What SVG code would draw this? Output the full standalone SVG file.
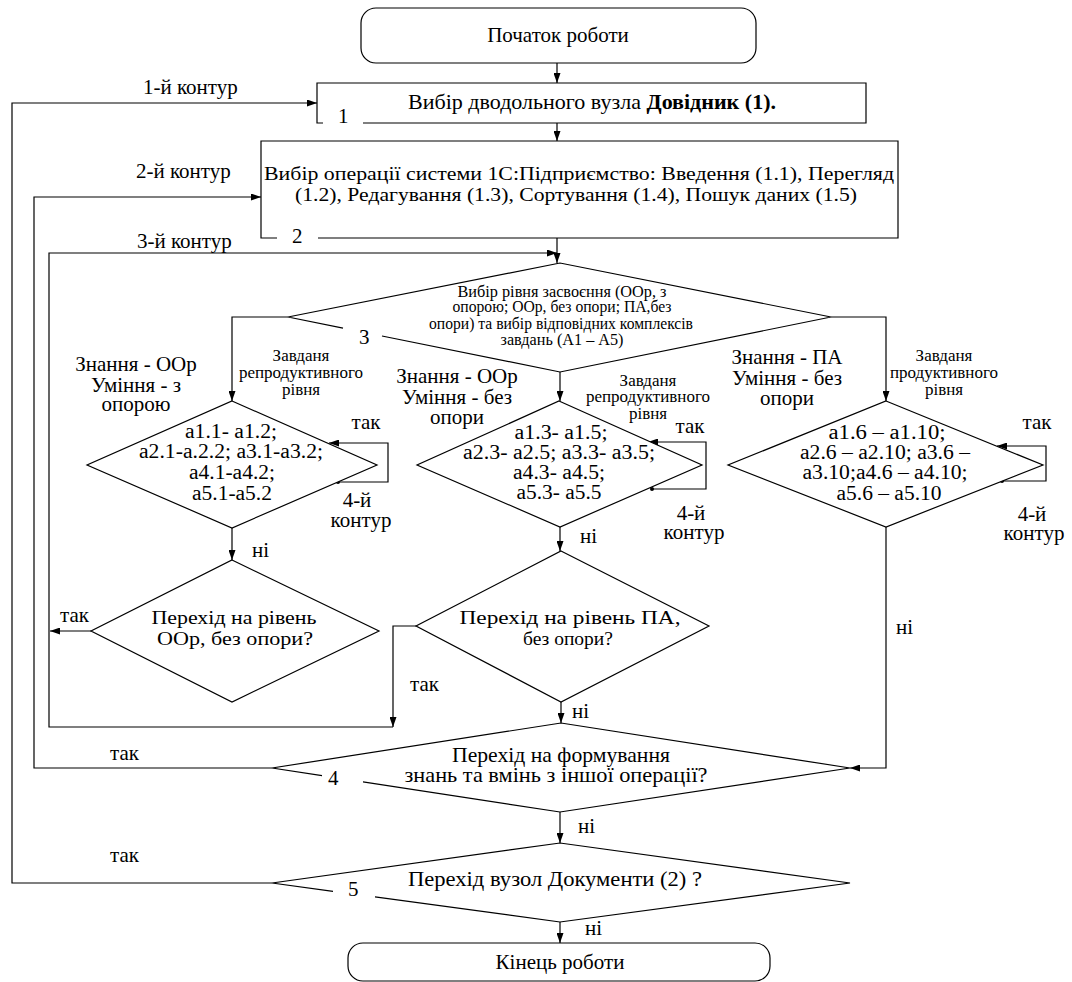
<svg xmlns="http://www.w3.org/2000/svg" width="1072" height="982" viewBox="0 0 1072 982">
<style>
.t{font-family:"Liberation Serif","DejaVu Serif Condensed","DejaVu Serif",serif;font-size:21px;fill:#000}
.s{font-size:17px}
.m{font-size:16px}
.a{font-size:20px}
.q{font-size:19.5px}
.c{text-anchor:middle}
.ln{fill:none;stroke:#000;stroke-width:1.2}
.nd{fill:#fff;stroke:#000;stroke-width:1.2}
</style>
<defs>
<marker id="ah" viewBox="0 0 10 7" refX="10" refY="3.5" markerWidth="10" markerHeight="7" markerUnits="userSpaceOnUse" orient="auto"><path d="M0,0 L10,3.5 L0,7 z" fill="#000"/></marker>
</defs>
<rect width="1072" height="982" fill="#fff"/>

<g id="connectors" class="ln">
<path d="M557,63 V83" marker-end="url(#ah)"/>
<path d="M557,123 V141" marker-end="url(#ah)"/>
<path d="M557,238 V263" marker-end="url(#ah)"/>
<path d="M416,626 H393 V727" marker-end="url(#ah)"/>
<path d="M393,727 H49 V253 H557" marker-end="url(#ah)"/>
<path d="M91,631 H50" marker-end="url(#ah)"/>
<path d="M288,317 H232 V401" marker-end="url(#ah)"/>
<path d="M560,372 V401" marker-end="url(#ah)"/>
<path d="M831,317 H886 V401" marker-end="url(#ah)"/>
<path d="M338,482 H388 V443 H329" marker-end="url(#ah)"/>
<path d="M652,489 H706 V442 H648" marker-end="url(#ah)"/>
<path d="M1002,481 H1046 V446 H997" marker-end="url(#ah)"/>
<path d="M232,528 V560" marker-end="url(#ah)"/>
<path d="M560,527 V551" marker-end="url(#ah)"/>
<path d="M561,702 V723" marker-end="url(#ah)"/>
<path d="M886,527 V768 H850" marker-end="url(#ah)"/>
<path d="M560,812 V843" marker-end="url(#ah)"/>
<path d="M560,922 V943" marker-end="url(#ah)"/>
<path d="M272,768 H34 V197 H261" marker-end="url(#ah)"/>
<path d="M272,883 H12 V103 H317" marker-end="url(#ah)"/>
<circle cx="338" cy="482" r="2" fill="#000" stroke="none"/>
<circle cx="652" cy="489" r="2" fill="#000" stroke="none"/>
<circle cx="1002" cy="481" r="2" fill="#000" stroke="none"/>
<g class="t" stroke="none">
<text x="143" y="94">1-й контур</text>
<text x="136" y="178">2-й контур</text>
<text x="137" y="248">3-й контур</text>
<text x="366" y="429" class="c">так</text>
<text x="357" y="507" class="c">4-й</text>
<text x="361" y="527" class="c">контур</text>
<text x="690" y="433" class="c">так</text>
<text x="691" y="520" class="c">4-й</text>
<text x="694" y="539" class="c">контур</text>
<text x="1037" y="429" class="c">так</text>
<text x="1032" y="521" class="c">4-й</text>
<text x="1034" y="540" class="c">контур</text>
<text x="252" y="557">ні</text>
<text x="580" y="543">ні</text>
<text x="60" y="622">так</text>
<text x="410" y="691">так</text>
<text x="572" y="718">ні</text>
<text x="896" y="634">ні</text>
<text x="578" y="833">ні</text>
<text x="585" y="935">ні</text>
<text x="110" y="760">так</text>
<text x="110" y="862">так</text>
</g>
</g>

<g id="start">
<rect x="361" y="8" width="395" height="55" rx="15" class="nd"/>
<text x="558" y="42" class="t c">Початок роботи</text>
</g>

<g id="box1">
<path d="M323,123 H317 V83 H866 V123 H363" class="ln"/>
<text x="408" y="109" class="t" textLength="368" lengthAdjust="spacingAndGlyphs">Вибір дводольного вузла <tspan font-weight="bold">Довідник (1).</tspan></text>
<text x="338" y="123" class="t">1</text>
</g>

<g id="box2">
<path d="M277,238 H261 V141 H898 V238 H318" class="ln"/>
<text x="579" y="180" class="t q c" textLength="630" lengthAdjust="spacingAndGlyphs">Вибір операції системи 1С:Підприємство: Введення (1.1), Перегляд</text>
<text x="576" y="201" class="t q c" textLength="562" lengthAdjust="spacingAndGlyphs">(1.2), Редагування (1.3), Сортування (1.4), Пошук даних (1.5)</text>
<text x="292" y="243" class="t">2</text>
</g>

<g id="level-choice">
<path d="M343,328.1 L288,317 L560,263 L831,317 L560,372 L382,336" class="ln"/>
<g class="t m c">
<text x="562" y="297" textLength="209" lengthAdjust="spacingAndGlyphs">Вибір рівня засвоєння (ООр, з</text>
<text x="562" y="312" textLength="219" lengthAdjust="spacingAndGlyphs">опорою; ООр, без опори; ПА,без</text>
<text x="561" y="329" textLength="264" lengthAdjust="spacingAndGlyphs">опори) та вибір відповідних комплексів</text>
<text x="562" y="345" textLength="123" lengthAdjust="spacingAndGlyphs">завдань (А1 – А5)</text>
</g>
<text x="359" y="344" class="t">3</text>
</g>

<g id="label-left" class="t c">
<text x="136" y="371">Знання - ООр</text>
<text x="136" y="392">Уміння - з</text>
<text x="136" y="411">опорою</text>
<g class="s">
<text x="301" y="361">Завданя</text>
<text x="301" y="378">репродуктивного</text>
<text x="301" y="395">рівня</text>
</g>
</g>

<g id="label-middle" class="t c">
<text x="457" y="383">Знання - ООр</text>
<text x="457" y="404">Уміння - без</text>
<text x="457" y="424">опори</text>
<g class="s">
<text x="648" y="386">Завданя</text>
<text x="648" y="402">репродуктивного</text>
<text x="648" y="419">рівня</text>
</g>
</g>

<g id="label-right" class="t c">
<text x="787" y="364">Знання - ПА</text>
<text x="787" y="385">Уміння - без</text>
<text x="787" y="405">опори</text>
<g class="s">
<text x="944" y="361">Завданя</text>
<text x="944" y="378">продуктивного</text>
<text x="944" y="395">рівня</text>
</g>
</g>

<g id="tasks-a">
<path d="M232,401 L377,465 L232,528 L87,465 Z" class="nd"/>
<g class="t a c">
<text x="231" y="438" textLength="92" lengthAdjust="spacingAndGlyphs">а1.1- а1.2;</text>
<text x="231" y="458" textLength="184" lengthAdjust="spacingAndGlyphs">а2.1-а.2.2; а3.1-а3.2;</text>
<text x="232" y="479" textLength="86" lengthAdjust="spacingAndGlyphs">а4.1-а4.2;</text>
<text x="232" y="500" textLength="80" lengthAdjust="spacingAndGlyphs">а5.1-а5.2</text>
</g>
</g>

<g id="tasks-d">
<path d="M559,401 L702,465 L560,527 L417,465 Z" class="nd"/>
<g class="t a c">
<text x="561" y="439" textLength="93" lengthAdjust="spacingAndGlyphs">а1.3- а1.5;</text>
<text x="559" y="459" textLength="192" lengthAdjust="spacingAndGlyphs">а2.3- а2.5; а3.3- а3.5;</text>
<text x="559" y="479" textLength="92" lengthAdjust="spacingAndGlyphs">а4.3- а4.5;</text>
<text x="559" y="499" textLength="85" lengthAdjust="spacingAndGlyphs">а5.3- а5.5</text>
</g>
</g>

<g id="tasks-c">
<path d="M886,401 L1043,465 L886,527 L728,465 Z" class="nd"/>
<g class="t a c">
<text x="887" y="439" textLength="117" lengthAdjust="spacingAndGlyphs">а1.6 – а1.10;</text>
<text x="885" y="459" textLength="170" lengthAdjust="spacingAndGlyphs">а2.6 – а2.10; а3.6 –</text>
<text x="885" y="479" textLength="165" lengthAdjust="spacingAndGlyphs">а3.10;а4.6 – а4.10;</text>
<text x="889" y="500" textLength="105" lengthAdjust="spacingAndGlyphs">а5.6 – а5.10</text>
</g>
</g>

<g id="decision-b">
<path d="M232,560 L379,631 L232,702 L91,631 Z" class="nd"/>
<text x="234" y="624" class="t q c" textLength="165" lengthAdjust="spacingAndGlyphs">Перехід на рівень</text>
<text x="235" y="645" class="t q c" textLength="156" lengthAdjust="spacingAndGlyphs">ООр, без опори?</text>
</g>

<g id="decision-e">
<path d="M561,551 L709,626 L561,702 L416,626 Z" class="nd"/>
<text x="570" y="624" class="t q c" textLength="221" lengthAdjust="spacingAndGlyphs">Перехід на рівень ПА,</text>
<text x="568" y="645" class="t q c">без опори?</text>
</g>

<g id="decision-4">
<path d="M322,775.6 L272,768 L561,723 L850,768 L560,812 L363,781.9" class="ln"/>
<text x="561" y="762" class="t c" textLength="218" lengthAdjust="spacingAndGlyphs">Перехід на формування</text>
<text x="556" y="782" class="t c" textLength="303" lengthAdjust="spacingAndGlyphs">знань та вмінь з іншої операції?</text>
<text x="328" y="785" class="t">4</text>
</g>

<g id="decision-5">
<path d="M333,891.3 L272,883 L560,843 L850,883 L560,922 L375,896.9" class="ln"/>
<text x="555" y="886" class="t c" textLength="294" lengthAdjust="spacingAndGlyphs">Перехід вузол Документи (2) ?</text>
<text x="348" y="896" class="t">5</text>
</g>

<g id="end">
<rect x="348" y="943" width="422" height="38" rx="15" class="nd"/>
<text x="560" y="969" class="t c">Кінець роботи</text>
</g>
</svg>
